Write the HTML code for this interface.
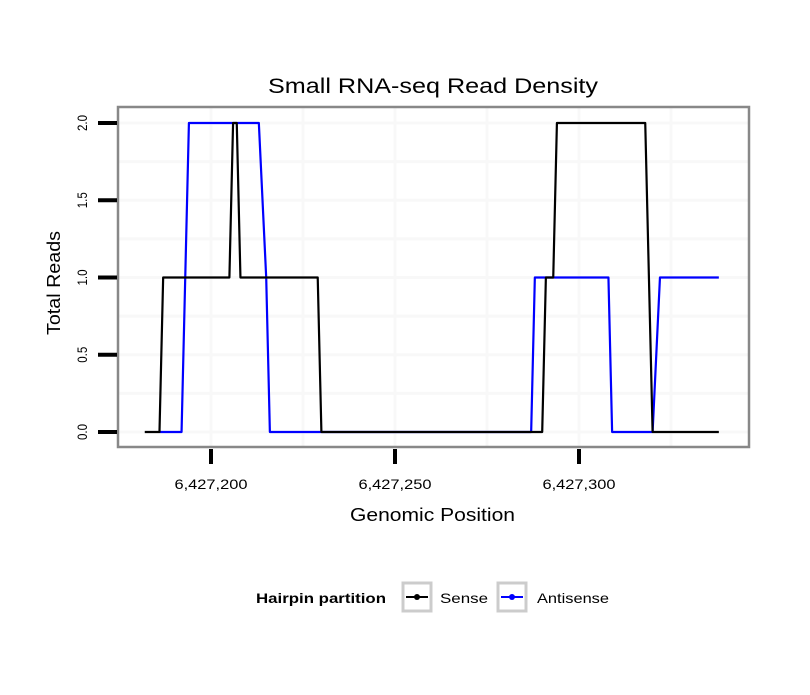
<!DOCTYPE html>
<html><head><meta charset="utf-8"><style>
body{margin:0;background:#fff;}
text{font-family:"Liberation Sans",Arial,sans-serif;}
</style></head><body>
<svg id="chart" width="810" height="690" xmlns="http://www.w3.org/2000/svg">
<rect width="810" height="690" fill="#fff"/>
<text x="268" y="93" font-size="21" textLength="330" lengthAdjust="spacingAndGlyphs">Small RNA-seq Read Density</text>
<g id="grid"></g>
<g id="series"></g>
<rect x="118" y="107" width="631" height="340" fill="none" stroke="#888" stroke-width="2.5"/>
<g id="axes"></g>
<text x="350" y="521" font-size="18" textLength="165" lengthAdjust="spacingAndGlyphs">Genomic Position</text>
<text transform="translate(60,283) rotate(-90)" font-size="18" text-anchor="middle" textLength="104" lengthAdjust="spacingAndGlyphs">Total Reads</text>
<g>
<text x="256" y="603" font-size="14" font-weight="bold" textLength="130" lengthAdjust="spacingAndGlyphs">Hairpin partition</text>
<g>
<rect x="403" y="583" width="28" height="28" fill="#fff" stroke="#ccc" stroke-width="3"/>
<line x1="406" y1="597" x2="428" y2="597" stroke="#000" stroke-width="2"/>
<circle cx="417" cy="597" r="3" fill="#000"/>
<text x="440" y="603" font-size="14" textLength="48" lengthAdjust="spacingAndGlyphs">Sense</text>
</g>
<g>
<rect x="498" y="583" width="28" height="28" fill="#fff" stroke="#ccc" stroke-width="3"/>
<line x1="501" y1="597" x2="523" y2="597" stroke="#00f" stroke-width="2"/>
<circle cx="512" cy="597" r="3" fill="#00f"/>
<text x="537" y="603" font-size="14" textLength="72" lengthAdjust="spacingAndGlyphs">Antisense</text>
</g>
</g>
</svg>
<script>
const base = 6427200;
const senseX = [-18,-14,-13,5,6,7,8,29,30,90,91,93,94,118,120,138];
const senseY = [0,0,1,1,2,2,1,1,0,0,1,1,2,2,0,0];
const antiX = [-14,-8,-6,13,15,16,30,87,88,108,109,120,122,138];
const antiY = [0,0,2,2,1,0,0,0,1,1,0,0,1,1];
const xTicks = [6427200,6427250,6427300];
const xTickLabels = ["6,427,200","6,427,250","6,427,300"];
const yTicks = [0,0.5,1,1.5,2];
const yTickLabels = ["0.0","0.5","1.0","1.5","2.0"];
const xMinorGrid = [6427225,6427275,6427325];
const yMinorGrid = [0.25,0.75,1.25,1.75];

function xs(v){return 211+(v-base)*3.68;}
function ys(v){return 432-v*154.5;}
const NS="http://www.w3.org/2000/svg";
function mk(tag,attrs,parent){const e=document.createElementNS(NS,tag);for(const k in attrs)e.setAttribute(k,attrs[k]);parent.appendChild(e);return e;}
const grid=document.getElementById('grid'), ser=document.getElementById('series'), ax=document.getElementById('axes');
xMinorGrid.concat(xTicks).forEach(v=>{
  const l=mk('line',{x1:xs(v),x2:xs(v),y1:108,y2:446,stroke:'#f8f8f8','stroke-width':3},grid);
  
  
});
yMinorGrid.concat(yTicks).forEach(v=>{
  const l=mk('line',{x1:119,x2:748,y1:ys(v),y2:ys(v),stroke:'#f8f8f8','stroke-width':3},grid);
  
  
});
function line(xa,ya,color,name){
  const p=mk('polyline',{points:xa.map((x,i)=>xs(base+x)+','+ys(ya[i])).join(' '),fill:'none',stroke:color,'stroke-width':2.2,'stroke-linejoin':'round'},ser);
  
  
}
line(antiX,antiY,'#00f','antisense-line');
line(senseX,senseY,'#000','sense-line');
xTicks.forEach((v,i)=>{
  const t=mk('line',{x1:xs(v),x2:xs(v),y1:449,y2:464,stroke:'#000','stroke-width':4},ax);
  
  
  const tx=mk('text',{x:xs(v)-36.5,y:489,'font-size':14,textLength:73,lengthAdjust:'spacingAndGlyphs'},ax);
  tx.textContent=xTickLabels[i];
  
  
});
yTicks.forEach((v,i)=>{
  const t=mk('line',{x1:98,x2:117,y1:ys(v),y2:ys(v),stroke:'#000','stroke-width':4},ax);
  
  
  const tx=mk('text',{transform:'translate(87,'+ys(v)+') rotate(-90)','font-size':14,'text-anchor':'middle',textLength:16,lengthAdjust:'spacingAndGlyphs'},ax);
  tx.textContent=yTickLabels[i];
  
  
});
</script>
</body></html>
